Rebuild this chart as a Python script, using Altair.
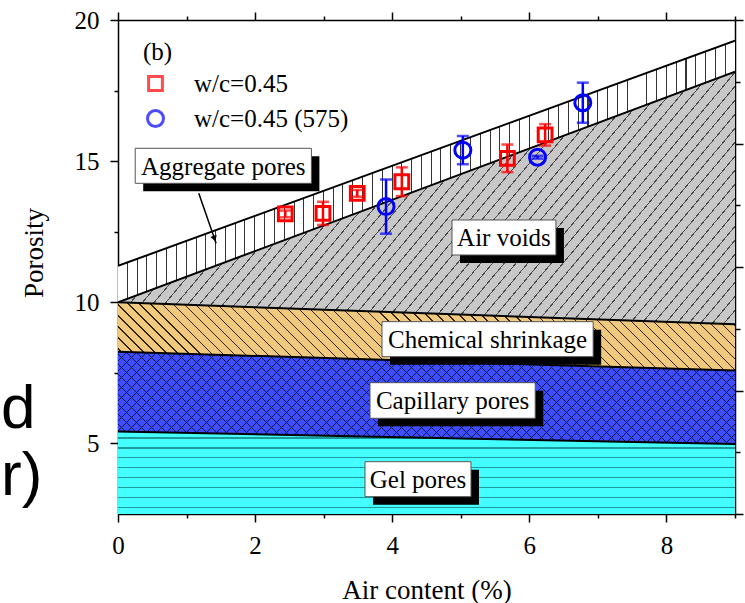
import math
import altair as alt
import pandas as pd

SERIF = "Liberation Serif"
SANS = "Liberation Sans"

# ---------------- data ----------------
# boundaries of the stacked pore bands at air content 0 % and 9 %
band_x = [0, 9]
floor_y = [2.5, 2.5]
gel_top = [5.42, 4.98]
cap_top = [8.25, 7.58]
chem_top = [10.0, 9.22]
air_top = [10.0, 18.17]
agg_top = [11.29, 19.27]

# measured porosity
series_names = ["w/c=0.45", "w/c=0.45 (575)"]
series_colors = ["#FF0000", "#0000FF"]
sq_x = [2.44, 2.99, 3.49, 4.14, 5.68, 6.23]
sq_y = [13.13, 13.15, 13.86, 14.27, 15.10, 15.93]
sq_err = [0.12, 0.41, 0.12, 0.51, 0.49, 0.38]
ci_x = [3.91, 5.03, 6.12, 6.78]
ci_y = [13.39, 15.39, 15.14, 17.07]
ci_err = [0.96, 0.50, 0.05, 0.71]

# axis ticks
x_major = [0, 2, 4, 6, 8]
x_minor = [1, 3, 5, 7, 9]
y_major = [5, 10, 15, 20]
y_minor = [7.5, 12.5, 17.5]
r_major = [2.5, 6.875, 11.25, 15.625, 20]
r_minor = [4.6875, 9.0625, 13.4375, 17.8125]

# band labels (boxes in data units)
ann_text = ["Aggregate pores", "Air voids", "Chemical shrinkage", "Capillary pores", "Gel pores"]
ann_x0 = [0.251, 4.872, 3.851, 3.676, 3.603]
ann_x1 = [2.821, 6.388, 6.931, 6.086, 5.149]
ann_y0 = [14.215, 11.676, 8.073, 5.891, 3.114]
ann_y1 = [15.455, 12.915, 9.313, 7.152, 4.353]

arrow_x = [1.178, 1.431]
arrow_y = [13.86, 12.09]

# ---------------- geometry helpers ----------------
W, H = 617, 494
XD = [0, 9]
YD = [2.5, 20]


def px(x):
    return (x - XD[0]) / (XD[1] - XD[0]) * W


def py(y):
    return (YD[1] - y) / (YD[1] - YD[0]) * H


def hatch(bg, fg, angle, spacing, lw, lower, upper, phase=0.0):
    ys = [py(v) for v in lower + upper]
    bw, bh = float(W), max(ys) - min(ys)
    a = math.radians(angle)
    dx, dy = math.cos(a), -math.sin(a)
    vx, vy = dy / bh, -dx / bw
    n = math.hypot(vx, vy)
    vx, vy = vx / n, vy / n
    pr = [0.0, vx, vy, vx + vy]
    t0, t1 = min(pr), max(pr)
    L = (t1 - t0) / math.hypot(vx / bw, vy / bh)
    per, half = spacing / L, lw / 2.0 / L
    stops = [{"offset": 0.0, "color": bg}]
    last = 0.0
    c = (phase / L) % per - per
    while c - half < 1.0:
        a0 = max(c - half, last)
        a1 = min(c + half, 1.0)
        if a1 > a0:
            for o, col in ((a0, bg), (a0, fg), (a1, fg), (a1, bg)):
                stops.append({"offset": round(o, 6), "color": col})
            last = a1
        c += per
    stops.append({"offset": 1.0, "color": bg})
    return {"gradient": "linear", "x1": round(t0 * vx, 6), "y1": round(t0 * vy, 6),
            "x2": round(t1 * vx, 6), "y2": round(t1 * vy, 6), "stops": stops}


XS = alt.Scale(domain=XD, nice=False, zero=False)
YS = alt.Scale(domain=YD, nice=False, zero=False)

bands = pd.DataFrame({"x": band_x, "floor": floor_y, "gel": gel_top, "cap": cap_top,
                      "chem": chem_top, "air": air_top, "agg": agg_top})


def band(lo, hi, fill):
    return alt.Chart(bands).mark_area(fill=fill, clip=True).encode(
        x=alt.X("x:Q", scale=XS, axis=None),
        y=alt.Y(f"{lo}:Q", scale=YS, axis=None),
        y2=alt.Y2(f"{hi}:Q"),
    )


CLEAR = "rgba(0,0,0,0)"
gel_area = band("floor", "gel", hatch("#44FFFF", "#1E9A9A", 0, 9.9, 1.2, floor_y, gel_top, 6.7))
cap_area1 = band("gel", "cap", hatch("#3C4EFF", "#141450", 45, 7.07, 1.0, gel_top, cap_top))
cap_area2 = band("gel", "cap", hatch(CLEAR, "#141450", -45, 7.07, 1.0, gel_top, cap_top))
chem_area = band("cap", "chem", hatch("#F0C97E", "#2E2410", -45, 7.8, 1.0, cap_top, chem_top))
air_area = band("chem", "air", hatch("#C8C8C8", "#4A4A4A", 50, 9.0, 1.0, chem_top, air_top))
agg_area = band("air", "agg", hatch("#FFFFFF", "#333333", 90, 9.8, 1.0, air_top, agg_top))

names = ["gel", "cap", "chem", "air", "agg"]
bounds = pd.DataFrame({
    "x": band_x * 5,
    "y": gel_top + cap_top + chem_top + air_top + agg_top,
    "b": [n for n in names for _ in band_x],
})
bound_lines = alt.Chart(bounds).mark_line(color="black", strokeWidth=2, clip=True).encode(
    x=alt.X("x:Q", scale=XS, axis=None),
    y=alt.Y("y:Q", scale=YS, axis=None),
    detail="b:N",
)

# arrow for "Aggregate pores"
arr = pd.DataFrame({"x": [arrow_x[0]], "y": [arrow_y[0]], "x2": [arrow_x[1]], "y2": [arrow_y[1]]})
arrow_line = alt.Chart(arr).mark_rule(color="black", strokeWidth=1.5).encode(
    x=alt.X("x:Q", scale=XS, axis=None), y=alt.Y("y:Q", scale=YS, axis=None),
    x2="x2:Q", y2="y2:Q",
)
ddx = px(arrow_x[1]) - px(arrow_x[0])
ddy = py(arrow_y[1]) - py(arrow_y[0])
dl = math.hypot(ddx, ddy)
back = 5.0
head_x = arrow_x[1] - back * ddx / dl * (XD[1] - XD[0]) / W
head_y = arrow_y[1] + back * ddy / dl * (YD[1] - YD[0]) / H
head_angle = math.degrees(math.atan2(ddx, -ddy)) % 360
arrow_head = alt.Chart(pd.DataFrame({"x": [head_x], "y": [head_y]})).mark_point(
    shape="triangle-up", filled=True, color="black", size=45, angle=round(head_angle, 1), opacity=1
).encode(x=alt.X("x:Q", scale=XS, axis=None), y=alt.Y("y:Q", scale=YS, axis=None))

# label boxes
ann = pd.DataFrame({"t": ann_text, "x0": ann_x0, "x1": ann_x1, "y0": ann_y0, "y1": ann_y1})
ann_base = alt.Chart(ann).transform_calculate(xc="(datum.x0 + datum.x1) / 2", yc="(datum.y0 + datum.y1) / 2")
shadow = ann_base.mark_rect(color="black", xOffset=8, x2Offset=8, yOffset=8, y2Offset=8).encode(
    x=alt.X("x0:Q", scale=XS, axis=None), x2="x1:Q",
    y=alt.Y("y0:Q", scale=YS, axis=None), y2="y1:Q",
)
box = ann_base.mark_rect(fill="white", stroke="#555555", strokeWidth=1).encode(
    x=alt.X("x0:Q", scale=XS, axis=None), x2="x1:Q",
    y=alt.Y("y0:Q", scale=YS, axis=None), y2="y1:Q",
)
box_text = ann_base.mark_text(font=SERIF, fontSize=25, color="black", align="center", baseline="middle", dy=1).encode(
    x=alt.X("xc:Q", scale=XS, axis=None), y=alt.Y("yc:Q", scale=YS, axis=None), text="t:N",
)

# measurements
pts = pd.DataFrame({
    "x": sq_x + ci_x,
    "y": sq_y + ci_y,
    "e": sq_err + ci_err,
    "s": [series_names[0]] * len(sq_x) + [series_names[1]] * len(ci_x),
})
CS = alt.Scale(domain=series_names, range=series_colors)
SS = alt.Scale(domain=series_names, range=["square", "circle"])
ZS = alt.Scale(domain=series_names, range=[190, 256])

color_expr = f"datum.s === '{series_names[0]}' ? '{series_colors[0]}' : '{series_colors[1]}'"
err_base = alt.Chart(pts).transform_calculate(
    lo="datum.y - datum.e", hi="datum.y + datum.e", c=color_expr)
err_rule = err_base.mark_rule(strokeWidth=2.5).encode(
    x=alt.X("x:Q", scale=XS, axis=None), y=alt.Y("lo:Q", scale=YS, axis=None), y2="hi:Q",
    color=alt.Color("c:N", scale=None),
)
err_caps = err_base.transform_fold(["lo", "hi"], as_=["end", "yv"]).mark_tick(
    orient="horizontal", size=12, thickness=2.5).encode(
    x=alt.X("x:Q", scale=XS, axis=None), y=alt.Y("yv:Q", scale=YS, axis=None),
    color=alt.Color("c:N", scale=None),
)

leg = dict(title="(b)", orient="none", legendX=25, legendY=20, padding=0,
           titleFont=SERIF, titleFontSize=25, titleFontWeight="normal", titleColor="black",
           titlePadding=6, labelFont=SERIF, labelFontSize=25, labelColor="black",
           labelOffset=26, rowPadding=7, symbolStrokeWidth=3, symbolOpacity=1,
           symbolFillColor="transparent")
points = alt.Chart(pts).mark_point(filled=False, strokeWidth=3, opacity=1).encode(
    x=alt.X("x:Q", scale=XS, axis=None),
    y=alt.Y("y:Q", scale=YS, axis=None),
    color=alt.Color("s:N", scale=CS, legend=alt.Legend(**leg)),
    shape=alt.Shape("s:N", scale=SS, legend=alt.Legend(**leg)),
    size=alt.Size("s:N", scale=ZS, legend=alt.Legend(**leg)),
)

# stray large text fragments at the left margin
stray_d = alt.Chart(pd.DataFrame({"t": ["d"]})).mark_text(
    font=SANS, fontSize=62, color="black", align="left", baseline="alphabetic").encode(
    x=alt.value(-117), y=alt.value(408), text="t:N")
stray_r = alt.Chart(pd.DataFrame({"t": ["r)"]})).mark_text(
    font=SANS, fontSize=62, color="black", align="left", baseline="alphabetic").encode(
    x=alt.value(-117), y=alt.value(475), text="t:N")

# axes
common = dict(domainColor="black", domainWidth=1.5, tickColor="black", tickWidth=1.5, grid=False)


def axis_layer(xaxis, yaxis):
    return alt.Chart(bands).mark_point(opacity=0).encode(
        x=alt.X("x:Q", scale=XS, axis=xaxis),
        y=alt.Y("floor:Q", scale=YS, axis=yaxis),
    )


ax1 = axis_layer(
    alt.Axis(orient="bottom", values=x_major, tickSize=8, labelFont=SERIF, labelFontSize=25,
             labelColor="black", labelPadding=11, labelFlush=False, title="Air content (%)",
             titleFont=SERIF, titleFontSize=27, titleFontWeight="normal", titleColor="black",
             titleY=76, titleBaseline="middle", **common),
    alt.Axis(orient="left", values=y_major, tickSize=8, labelFont=SERIF, labelFontSize=25,
             labelColor="black", labelPadding=11, labelFlush=False, title="Porosity",
             titleFont=SERIF, titleFontSize=27, titleFontWeight="normal", titleColor="black",
             titleAngle=270, titleX=-83.5, titleY=232.5, titleAlign="center",
             titleBaseline="middle", **common),
)
ax2 = axis_layer(
    alt.Axis(orient="bottom", values=x_minor, tickSize=4, labels=False, domain=False, title=None,
             tickColor="black", tickWidth=1.5, grid=False),
    alt.Axis(orient="left", values=y_minor, tickSize=4, labels=False, domain=False, title=None,
             tickColor="black", tickWidth=1.5, grid=False),
)
ax3 = axis_layer(
    alt.Axis(orient="top", values=x_major, tickSize=8, labels=False, title=None, **common),
    alt.Axis(orient="right", values=r_major, tickSize=8, labels=False, title=None, **common),
)
ax4 = axis_layer(
    alt.Axis(orient="top", values=x_minor, tickSize=4, labels=False, domain=False, title=None,
             tickColor="black", tickWidth=1.5, grid=False),
    alt.Axis(orient="right", values=r_minor, tickSize=5, labels=False, domain=False, title=None,
             tickColor="black", tickWidth=1.5, grid=False),
)

chart = alt.layer(
    gel_area, cap_area1, cap_area2, chem_area, air_area, agg_area, bound_lines,
    arrow_line, arrow_head, shadow, box, box_text, err_rule, err_caps, points,
    stray_d, stray_r, ax1, ax2, ax3, ax4,
).resolve_axis(x="independent", y="independent").properties(
    width=W, height=H,
    autosize=alt.AutoSizeParams(type="none"),
    padding={"left": 118, "top": 20, "right": 10, "bottom": 89},
).configure_view(stroke=None).configure(background="white")

chart.save("out.html", embed_options={"renderer": "svg", "actions": False})
